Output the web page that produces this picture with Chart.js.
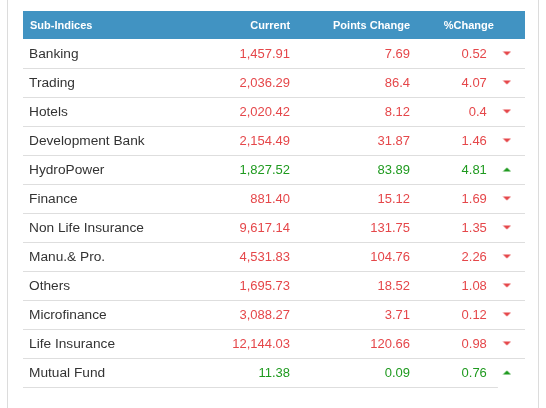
<!DOCTYPE html>
<html>
<head>
<meta charset="utf-8">
<script src="https://cdn.jsdelivr.net/npm/chart.js@4/dist/chart.umd.min.js"></script>
<style>
  html, body { margin: 0; padding: 0; background: #fff; }
  canvas { display: block; }
</style>
</head>
<body>
<canvas id="chart" width="546" height="408"></canvas>
<script>
const headers = ['Sub-Indices', 'Current', 'Points Change', '%Change'];
const subIndices = ['Banking', 'Trading', 'Hotels', 'Development Bank', 'HydroPower', 'Finance',
    'Non Life Insurance', 'Manu.& Pro.', 'Others', 'Microfinance', 'Life Insurance', 'Mutual Fund'];
const current = [1457.91, 2036.29, 2020.42, 2154.49, 1827.52, 881.40,
    9617.14, 4531.83, 1695.73, 3088.27, 12144.03, 11.38];
const pointsChange = [7.69, 86.4, 8.12, 31.87, 83.89, 15.12, 131.75, 104.76, 18.52, 3.71, 120.66, 0.09];
const pctChange = [0.52, 4.07, 0.4, 1.46, 4.81, 1.69, 1.35, 2.26, 1.08, 0.12, 0.98, 0.76];
const trend = ['down', 'down', 'down', 'down', 'up', 'down', 'down', 'down', 'down', 'down', 'down', 'up'];

const RED = '#e5474a';
const GREEN = '#1f9a1f';
const FONT = '"Liberation Sans", Arial, sans-serif';

// column anchors on the x scale (0..100)
const col = { name: 1.2, current: 53.2, points: 77.1, pct: 92.4, mark: 96.4, pctHead: 93.8 };

function caret(up, color) {
    const c = document.createElement('canvas');
    c.width = 9; c.height = 5;
    const g = c.getContext('2d');
    g.fillStyle = color;
    g.beginPath();
    if (up) { g.moveTo(0.5, 4.5); g.lineTo(8.5, 4.5); g.lineTo(4.5, 0.5); }
    else { g.moveTo(0.5, 0.5); g.lineTo(8.5, 0.5); g.lineTo(4.5, 4.5); }
    g.closePath();
    g.fill();
    return c;
}
const upCaret = caret(true, GREEN);
const downCaret = caret(false, RED);

function fmtCurrent(v) {
    return v.toLocaleString('en-US', { minimumFractionDigits: 2, maximumFractionDigits: 2 });
}

const tablePlugin = {
    id: 'table',
    beforeDatasetsDraw(chart) {
        const { ctx, chartArea, scales } = chart;
        const x = scales.x, y = scales.y;
        const rowH = (chartArea.bottom - chartArea.top) / subIndices.length;

        ctx.save();
        // outer container borders
        ctx.strokeStyle = '#dcdcdc';
        ctx.lineWidth = 1;
        ctx.beginPath();
        ctx.moveTo(7.5, 0); ctx.lineTo(7.5, chart.height);
        ctx.moveTo(538.5, 0); ctx.lineTo(538.5, chart.height);
        ctx.stroke();

        // header band
        const headTop = chartArea.top - 28;
        ctx.fillStyle = '#4193c2';
        ctx.fillRect(chartArea.left, headTop, chartArea.right - chartArea.left, 28);
        ctx.fillStyle = '#fff';
        ctx.font = 'bold 11px ' + FONT;
        ctx.textBaseline = 'middle';
        const hy = headTop + 14.5;
        ctx.textAlign = 'left';
        ctx.fillText(headers[0], x.getPixelForValue(col.name) + 1, hy);
        ctx.textAlign = 'right';
        ctx.fillText(headers[1], x.getPixelForValue(col.current), hy);
        ctx.fillText(headers[2], x.getPixelForValue(col.points), hy);
        ctx.fillText(headers[3], x.getPixelForValue(col.pctHead), hy);

        // rows
        subIndices.forEach((name, i) => {
            const cy = y.getPixelForValue(i);
            const bottom = Math.round(cy + rowH / 2) + 0.5;
            ctx.strokeStyle = '#dedede';
            ctx.beginPath();
            ctx.moveTo(chartArea.left, bottom);
            ctx.lineTo(i === subIndices.length - 1 ? x.getPixelForValue(94.6) : chartArea.right, bottom);
            ctx.stroke();

            const ty = cy + 1;
            ctx.textAlign = 'left';
            ctx.fillStyle = '#333';
            ctx.font = '13.7px ' + FONT;
            ctx.fillText(name, x.getPixelForValue(col.name), ty);

            ctx.font = '13px ' + FONT;
            ctx.textAlign = 'right';
            ctx.fillStyle = trend[i] === 'up' ? GREEN : RED;
            ctx.fillText(fmtCurrent(current[i]), x.getPixelForValue(col.current), ty);
            ctx.fillText(String(pointsChange[i]), x.getPixelForValue(col.points), ty);
            ctx.fillText(String(pctChange[i]), x.getPixelForValue(col.pct), ty);
        });
        ctx.restore();
    }
};

new Chart(document.getElementById('chart').getContext('2d'), {
    type: 'scatter',
    data: {
        labels: subIndices,
        datasets: [{
            label: '%Change',
            data: subIndices.map((s, i) => ({ x: col.mark, y: i })),
            pointStyle: c => trend[c.dataIndex] === 'up' ? upCaret : downCaret,
            pointRadius: 4,
            pointHoverRadius: 4
        }]
    },
    options: {
        responsive: false,
        animation: false,
        events: [],
        layout: { padding: { left: 23, right: 21, top: 39, bottom: 21 } },
        plugins: { legend: { display: false }, tooltip: { enabled: false } },
        scales: {
            x: { type: 'linear', min: 0, max: 100, display: false },
            y: { type: 'category', labels: subIndices, offset: true, display: false }
        }
    },
    plugins: [tablePlugin]
});
</script>
</body>
</html>
